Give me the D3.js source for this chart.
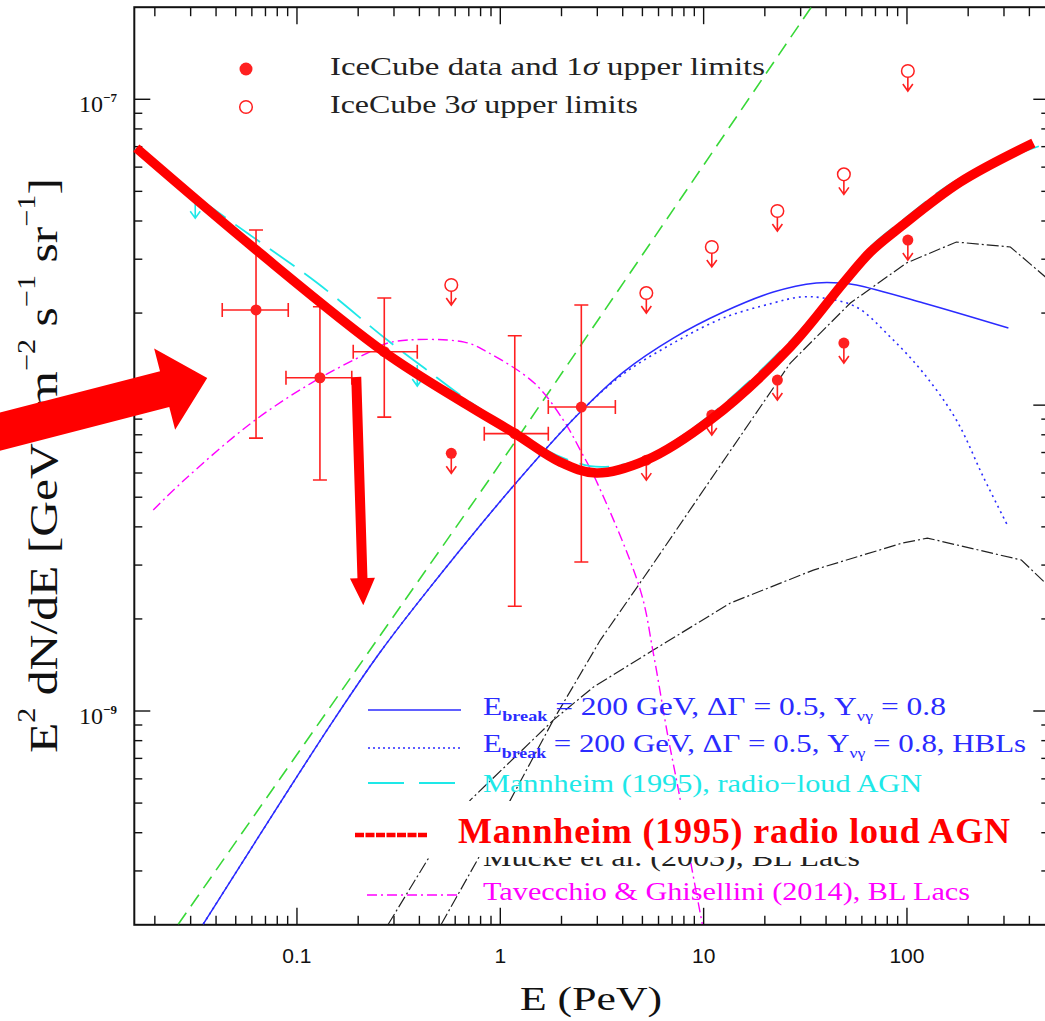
<!DOCTYPE html>
<html><head><meta charset="utf-8">
<script src="https://cdn.jsdelivr.net/npm/d3@7"></script>
<style>body{margin:0;background:#fff}svg{display:block}</style>
</head><body>
<svg id="c" width="1045" height="1021"></svg>
<script>
// ---------- data (E in PeV, F = E^2 dN/dE in GeV cm^-2 s^-1 sr^-1) ----------
const dataE   = [0.0629, 0.1297, 0.2688, 1.178, 2.503];
const dataF   = [2.047e-8, 1.229e-8, 1.495e-8, 8.07e-9, 9.86e-9];
const dataElo = [0.0429, 0.0883, 0.1891, 0.834, 1.722];
const dataEhi = [0.0906, 0.186, 0.3905, 1.722, 3.68];
const dataFlo = [7.80e-9, 5.69e-9, 9.14e-9, 2.20e-9, 3.07e-9];
const dataFhi = [3.737e-8, 2.098e-8, 2.240e-8, 1.686e-8, 2.125e-8];

const ul1E = [0.574, 5.226, 10.97, 23.05, 48.94, 101.0];
const ul1F = [6.96e-9, 6.61e-9, 9.28e-9, 1.208e-8, 1.596e-8, 3.466e-8];
const ul3E = [0.574, 5.226, 10.97, 23.05, 48.94, 101.0];
const ul3F = [2.470e-8, 2.325e-8, 3.289e-8, 4.311e-8, 5.683e-8, 1.237e-7];

const blueE = [0.03459, 0.1459, 0.2569, 0.4525, 1.159, 2.474, 4.027, 7.096, 12.50, 22.02, 35.84, 47.03, 56.38, 120.4, 315.4];
const blueF = [2.009e-10, 8.99e-10, 1.559e-9, 2.541e-9, 5.438e-9, 9.494e-9, 1.283e-8, 1.657e-8, 2.016e-8, 2.343e-8, 2.508e-8, 2.508e-8, 2.47e-8, 2.158e-8, 1.787e-8];

const hblE = [0.03459, 0.1459, 0.2569, 0.4525, 1.159, 2.474, 4.027, 7.096, 12.50, 22.02, 29.91, 38.81, 56.38, 82.87, 120.4, 175.0, 237.6, 315.4];
const hblF = [2.009e-10, 8.99e-10, 1.559e-9, 2.541e-9, 5.438e-9, 9.494e-9, 1.264e-8, 1.596e-8, 1.927e-8, 2.158e-8, 2.257e-8, 2.24e-8, 2.093e-8, 1.669e-8, 1.274e-8, 8.94e-9, 5.82e-9, 3.99e-9];

const mannE = [0.01584, 0.0302, 0.0569, 0.1259, 0.2781, 0.4229, 0.688, 1.469, 1.886, 2.772, 3.894, 5.467, 10.79, 26.70, 48.66, 66.07, 92.80, 183.1, 479.6];
const mannF = [6.825e-8, 4.94e-8, 3.654e-8, 2.508e-8, 1.632e-8, 1.322e-8, 1.039e-8, 7.52e-9, 6.87e-9, 6.32e-9, 6.37e-9, 6.87e-9, 9.28e-9, 1.62e-8, 2.565e-8, 3.289e-8, 3.97e-8, 5.528e-8, 7.14e-8];
const mannArrE = [0.0316, 0.3905];
const mannArrF = [4.785e-8, 1.352e-8];

const tavE = [0.01964, 0.0279, 0.05958, 0.1176, 0.2217, 0.291, 0.6651, 0.8632, 1.469, 2.041, 2.474, 3.0, 4.883, 5.656, 6.628, 7.682, 8.602, 9.854];
const tavF = [4.539e-9, 5.69e-9, 8.74e-9, 1.181e-8, 1.480e-8, 1.607e-8, 1.607e-8, 1.491e-8, 1.181e-8, 8.94e-9, 7.13e-9, 5.56e-9, 2.485e-9, 1.546e-9, 8.47e-10, 5.11e-10, 3.254e-10, 2.009e-10];

const muckeAE = [0.5126, 0.7706, 1.120, 1.823, 3.104, 5.467, 10.79, 26.70, 52.69, 99.33, 175.0, 322.6, 479.6, 568.3];
const muckeAF = [2.009e-10, 3.254e-10, 5.113e-10, 9.34e-10, 1.706e-9, 2.933e-9, 5.69e-9, 1.373e-8, 2.158e-8, 2.915e-8, 3.414e-8, 3.289e-8, 2.624e-8, 2.291e-8];
const muckeBE = [0.2812, 0.4374, 0.7118, 1.823, 2.867, 5.656, 13.53, 34.64, 94.93, 126.0, 365.4, 479.6, 568.3];
const muckeBF = [2.009e-10, 3.254e-10, 5.113e-10, 9.34e-10, 1.197e-9, 1.582e-9, 2.254e-9, 2.889e-9, 3.54e-9, 3.676e-9, 3.116e-9, 2.62e-9, 2.305e-9];

const greenE = [0.02607, 0.8929, 33.87];
const greenF = [2.009e-10, 5.775e-9, 2.003e-7];

// red hand-drawn overlay
const redE = [0.01621, 0.0631, 0.2688, 0.688, 1.172, 1.973, 2.966, 5.225, 10.79, 26.70, 48.66, 66.07, 92.80, 183.1, 418.5];
const redF = [6.93e-8, 3.215e-8, 1.491e-8, 1.001e-8, 8.10e-9, 6.51e-9, 6.00e-9, 6.61e-9, 8.94e-9, 1.549e-8, 2.508e-8, 3.167e-8, 3.823e-8, 5.365e-8, 7.194e-8];
const bigArrow  = {tail: [0.0031, 8.04e-9], tip: [0.0362, 1.226e-8]};
const downArrow = {tail: [0.1957, 1.236e-8], tip: [0.2119, 2.219e-9]};

const xMajor = [0.1, 1, 10, 100];
const xLabels = ['0.1', '1', '10', '100'];
const yMajor = [1e-9, 1e-8, 1e-7];
const yExp = ['−9', '−8', '−7'];

// ---------- scales ----------
const svg = d3.select('#c');
const x = d3.scaleLog().domain([10 ** -1.8, 10 ** 2.7]).range([134.3, 1049.3]);
const y = d3.scaleLog().domain([2e-10, 2e-7]).range([924.8, 7.2]);
const L = x.range()[0], R = x.range()[1], T = y.range()[1], B = y.range()[0];

const defs = svg.append('defs');
defs.append('clipPath').attr('id', 'plot')
  .append('rect').attr('x', L).attr('y', T).attr('width', R - L).attr('height', B - T);
defs.append('clipPath').attr('id', 'below')
  .append('rect').attr('x', 0).attr('y', 857).attr('width', 1045).attr('height', 100);

const zip = (a, b) => a.map((v, i) => [v, b[i]]);
const lineLin = d3.line().x(d => x(d[0])).y(d => y(d[1]));
const lineSm = d3.line().x(d => x(d[0])).y(d => y(d[1])).curve(d3.curveCatmullRom.alpha(0.5));

const RED = '#ff2020', BLUE = '#2b2bff', CYAN = '#1ee8e8', GREEN = '#38d838', MAG = '#ff00ff';

// ---------- frame & ticks ----------
const ax = svg.append('g').attr('stroke', '#111');
ax.append('rect').attr('x', L).attr('y', T).attr('width', R - L).attr('height', B - T)
  .attr('fill', 'none').attr('stroke-width', 2);
const xMinor = [], yMinor = [];
for (let p = -2; p <= 2; p++) for (let m = 2; m <= 9; m++) {
  const v = m * 10 ** p;
  if (v > x.domain()[0] && v < x.domain()[1]) xMinor.push(v);
}
for (let p = -10; p <= -7; p++) for (let m = 2; m <= 9; m++) {
  const v = m * 10 ** p;
  if (v > y.domain()[0] && v < y.domain()[1]) yMinor.push(v);
}
function xt(v, len) {
  ax.append('line').attr('x1', x(v)).attr('x2', x(v)).attr('y1', B).attr('y2', B - len).attr('stroke-width', 1.4);
  ax.append('line').attr('x1', x(v)).attr('x2', x(v)).attr('y1', T).attr('y2', T + len).attr('stroke-width', 1.4);
}
function yt(v, len) {
  ax.append('line').attr('y1', y(v)).attr('y2', y(v)).attr('x1', L).attr('x2', L + len).attr('stroke-width', 1.4);
  ax.append('line').attr('y1', y(v)).attr('y2', y(v)).attr('x1', R).attr('x2', R - len).attr('stroke-width', 1.4);
}
xMajor.forEach(v => xt(v, 17)); xMinor.forEach(v => xt(v, 9));
yMajor.forEach(v => yt(v, 16)); yMinor.forEach(v => yt(v, 8));

xMajor.forEach((v, i) => svg.append('text').attr('x', x(v)).attr('y', 963).attr('text-anchor', 'middle')
  .attr('font-family', 'Liberation Sans, Arial, sans-serif').attr('font-size', 21).attr('fill', '#111').text(xLabels[i]));
yMajor.forEach((v, i) => {
  const t = svg.append('text').attr('x', 117).attr('y', y(v) + 13).attr('text-anchor', 'end')
    .attr('font-family', 'Liberation Serif, serif').attr('font-size', 24).attr('fill', '#111');
  t.append('tspan').text('10');
  t.append('tspan').attr('dy', -10).attr('font-size', 13).attr('font-weight', 'bold').text(yExp[i]);
});

// axis titles
svg.append('text').attr('x', 591).attr('y', 1010).attr('text-anchor', 'middle')
  .attr('font-family', 'Liberation Serif, serif').attr('font-size', 34).attr('fill', '#111')
  .attr('textLength', 142).attr('lengthAdjust', 'spacingAndGlyphs').text('E (PeV)');
svg.append('text').attr('transform', 'translate(57,753) rotate(-90)')
  .attr('font-family', 'Liberation Serif, serif').attr('font-size', 41).attr('fill', '#111')
  .attr('textLength', 575).attr('lengthAdjust', 'spacingAndGlyphs')
  .html('E<tspan dy="-22" font-size="25">2</tspan><tspan dy="22"> dN/dE [GeV cm</tspan><tspan dy="-22" font-size="25">−2</tspan><tspan dy="22"> s</tspan><tspan dy="-22" font-size="25">−1</tspan><tspan dy="22"> sr</tspan><tspan dy="-22" font-size="25">−1</tspan><tspan dy="22">]</tspan>');

// ---------- curves ----------
const cg = svg.append('g').attr('clip-path', 'url(#plot)').attr('fill', 'none');
cg.append('path').attr('d', lineLin(zip(greenE, greenF))).attr('stroke', GREEN).attr('stroke-width', 1.6).attr('stroke-dasharray', '14,8');
cg.append('path').attr('d', lineLin(zip(muckeAE, muckeAF))).attr('stroke', '#222').attr('stroke-width', 1.2).attr('stroke-dasharray', '12,3,2,3');
cg.append('path').attr('d', lineLin(zip(muckeBE, muckeBF))).attr('stroke', '#222').attr('stroke-width', 1.2).attr('stroke-dasharray', '12,3,2,3');
cg.append('path').attr('d', lineSm(zip(tavE, tavF))).attr('stroke', MAG).attr('stroke-width', 1.4).attr('stroke-dasharray', '10,4,2,4');
cg.append('path').attr('d', lineSm(zip(hblE, hblF))).attr('stroke', BLUE).attr('stroke-width', 1.6).attr('stroke-dasharray', '2,4');
cg.append('path').attr('d', lineSm(zip(blueE, blueF))).attr('stroke', BLUE).attr('stroke-width', 1.5);
cg.append('path').attr('d', lineSm(zip(mannE, mannF))).attr('stroke', CYAN).attr('stroke-width', 1.8).attr('stroke-dasharray', '30,12');
mannArrE.forEach((e, i) => {
  const px = x(e), py = y(mannArrF[i]);
  cg.append('path').attr('d', `M${px},${py}V${py + 21}M${px - 5},${py + 14}L${px},${py + 21}L${px + 5},${py + 14}`)
    .attr('stroke', CYAN).attr('stroke-width', 1.6);
});

// ---------- IceCube points ----------
const pg = svg.append('g').attr('stroke', RED).attr('stroke-width', 1.6).attr('fill', 'none');
dataE.forEach((e, i) => {
  const px = x(e), py = y(dataF[i]);
  const xl = x(dataElo[i]), xh = x(dataEhi[i]), yl = y(dataFlo[i]), yh = y(dataFhi[i]);
  pg.append('path').attr('d', `M${xl},${py}H${xh}M${xl},${py - 7}V${py + 7}M${xh},${py - 7}V${py + 7}` +
    `M${px},${yh}V${yl}M${px - 7},${yh}H${px + 7}M${px - 7},${yl}H${px + 7}`);
  pg.append('circle').attr('cx', px).attr('cy', py).attr('r', 5.5).attr('fill', RED).attr('stroke', 'none');
});
function ulArrow(px, py, start) {
  pg.append('path').attr('d', `M${px},${py + start}V${py + 20}M${px - 5},${py + 13}L${px},${py + 20}L${px + 5},${py + 13}`);
}
ul1E.forEach((e, i) => {
  const px = x(e), py = y(ul1F[i]);
  pg.append('circle').attr('cx', px).attr('cy', py).attr('r', 5.5).attr('fill', RED).attr('stroke', 'none');
  ulArrow(px, py, 0);
});
ul3E.forEach((e, i) => {
  const px = x(e), py = y(ul3F[i]);
  pg.append('circle').attr('cx', px).attr('cy', py).attr('r', 6.3).attr('stroke-width', 1.5);
  ulArrow(px, py, 6.3);
});

// ---------- top legend ----------
svg.append('circle').attr('cx', 246).attr('cy', 69).attr('r', 6.5).attr('fill', RED);
svg.append('circle').attr('cx', 246).attr('cy', 107).attr('r', 6.3).attr('fill', 'none').attr('stroke', RED).attr('stroke-width', 1.5);
svg.append('text').attr('x', 330).attr('y', 75).attr('font-family', 'Liberation Serif, serif').attr('font-size', 25)
  .attr('fill', '#222').attr('textLength', 435).attr('lengthAdjust', 'spacingAndGlyphs')
  .html('IceCube data and 1<tspan font-style="italic">σ</tspan> upper limits');
svg.append('text').attr('x', 330).attr('y', 113).attr('font-family', 'Liberation Serif, serif').attr('font-size', 25)
  .attr('fill', '#222').attr('textLength', 308).attr('lengthAdjust', 'spacingAndGlyphs')
  .html('IceCube 3<tspan font-style="italic">σ</tspan> upper limits');

// ---------- bottom legend ----------
const lg = svg.append('g').attr('font-family', 'Liberation Serif, serif').attr('font-size', 26);
lg.append('line').attr('x1', 368).attr('x2', 461).attr('y1', 710).attr('y2', 710).attr('stroke', BLUE).attr('stroke-width', 1.6);
lg.append('line').attr('x1', 368).attr('x2', 461).attr('y1', 748).attr('y2', 748).attr('stroke', BLUE).attr('stroke-width', 1.6).attr('stroke-dasharray', '2,3');
lg.append('line').attr('x1', 368).attr('x2', 456).attr('y1', 783).attr('y2', 783).attr('stroke', CYAN).attr('stroke-width', 1.8).attr('stroke-dasharray', '36,15');
lg.append('line').attr('x1', 367).attr('x2', 457).attr('y1', 895).attr('y2', 895).attr('stroke', MAG).attr('stroke-width', 1.5).attr('stroke-dasharray', '10,4,2,4');
const eb = '<tspan font-size="15" font-weight="bold" dy="6">break</tspan><tspan dy="-6"> = 200 GeV, ΔΓ = 0.5, Y</tspan><tspan font-size="15" dy="6">νγ</tspan><tspan dy="-6"> = 0.8';
lg.append('text').attr('x', 483).attr('y', 715).attr('fill', BLUE).attr('textLength', 463).attr('lengthAdjust', 'spacingAndGlyphs')
  .html('E' + eb + '</tspan>');
lg.append('text').attr('x', 483).attr('y', 752).attr('fill', BLUE).attr('textLength', 543).attr('lengthAdjust', 'spacingAndGlyphs')
  .html('E' + eb + ', HBLs</tspan>');
lg.append('text').attr('x', 483).attr('y', 792).attr('fill', CYAN).attr('textLength', 439).attr('lengthAdjust', 'spacingAndGlyphs').text('Mannheim (1995), radio−loud AGN');
lg.append('text').attr('x', 483).attr('y', 866).attr('fill', '#222').attr('clip-path', 'url(#below)').attr('textLength', 377).attr('lengthAdjust', 'spacingAndGlyphs').text('Mücke et al. (2003), BL Lacs');
lg.append('text').attr('x', 483).attr('y', 900).attr('fill', MAG).attr('textLength', 487).attr('lengthAdjust', 'spacingAndGlyphs').text('Tavecchio & Ghisellini (2014), BL Lacs');

// ---------- red overlay annotations ----------
svg.append('rect').attr('x', 345).attr('y', 801).attr('width', 675).attr('height', 56).attr('fill', '#fff');
svg.append('line').attr('x1', 355).attr('x2', 428).attr('y1', 835).attr('y2', 835).attr('stroke', '#f00').attr('stroke-width', 4.5).attr('stroke-dasharray', '9,1.5');
svg.append('text').attr('x', 458).attr('y', 843).attr('font-family', 'Liberation Serif, serif').attr('font-weight', 'bold')
  .attr('font-size', 36).attr('fill', '#f00').attr('textLength', 552).attr('lengthAdjust', 'spacing').text('Mannheim (1995) radio loud AGN');

svg.append('path').attr('d', lineSm(zip(redE, redF))).attr('fill', 'none').attr('stroke', '#f00').attr('stroke-width', 9.5).attr('stroke-linejoin', 'round');

function arrowPoly(a, shaftHalf, headHalf, headLen) {
  const p0 = [x(a.tail[0]), y(a.tail[1])], p1 = [x(a.tip[0]), y(a.tip[1])];
  const dx = p1[0] - p0[0], dy = p1[1] - p0[1], len = Math.hypot(dx, dy);
  const ux = dx / len, uy = dy / len, nx = -uy, ny = ux;
  const bx = p1[0] - ux * headLen, by = p1[1] - uy * headLen;
  return [[p0[0] + nx * shaftHalf, p0[1] + ny * shaftHalf], [bx + nx * shaftHalf, by + ny * shaftHalf],
    [bx + nx * headHalf, by + ny * headHalf], p1, [bx - nx * headHalf, by - ny * headHalf],
    [bx - nx * shaftHalf, by - ny * shaftHalf], [p0[0] - nx * shaftHalf, p0[1] - ny * shaftHalf]];
}
svg.append('polygon').attr('points', arrowPoly(bigArrow, 18.5, 42, 44).join(' ')).attr('fill', '#f00');
svg.append('polygon').attr('points', arrowPoly(downArrow, 5, 12.5, 27).join(' ')).attr('fill', '#f00');
</script>
</body></html>
